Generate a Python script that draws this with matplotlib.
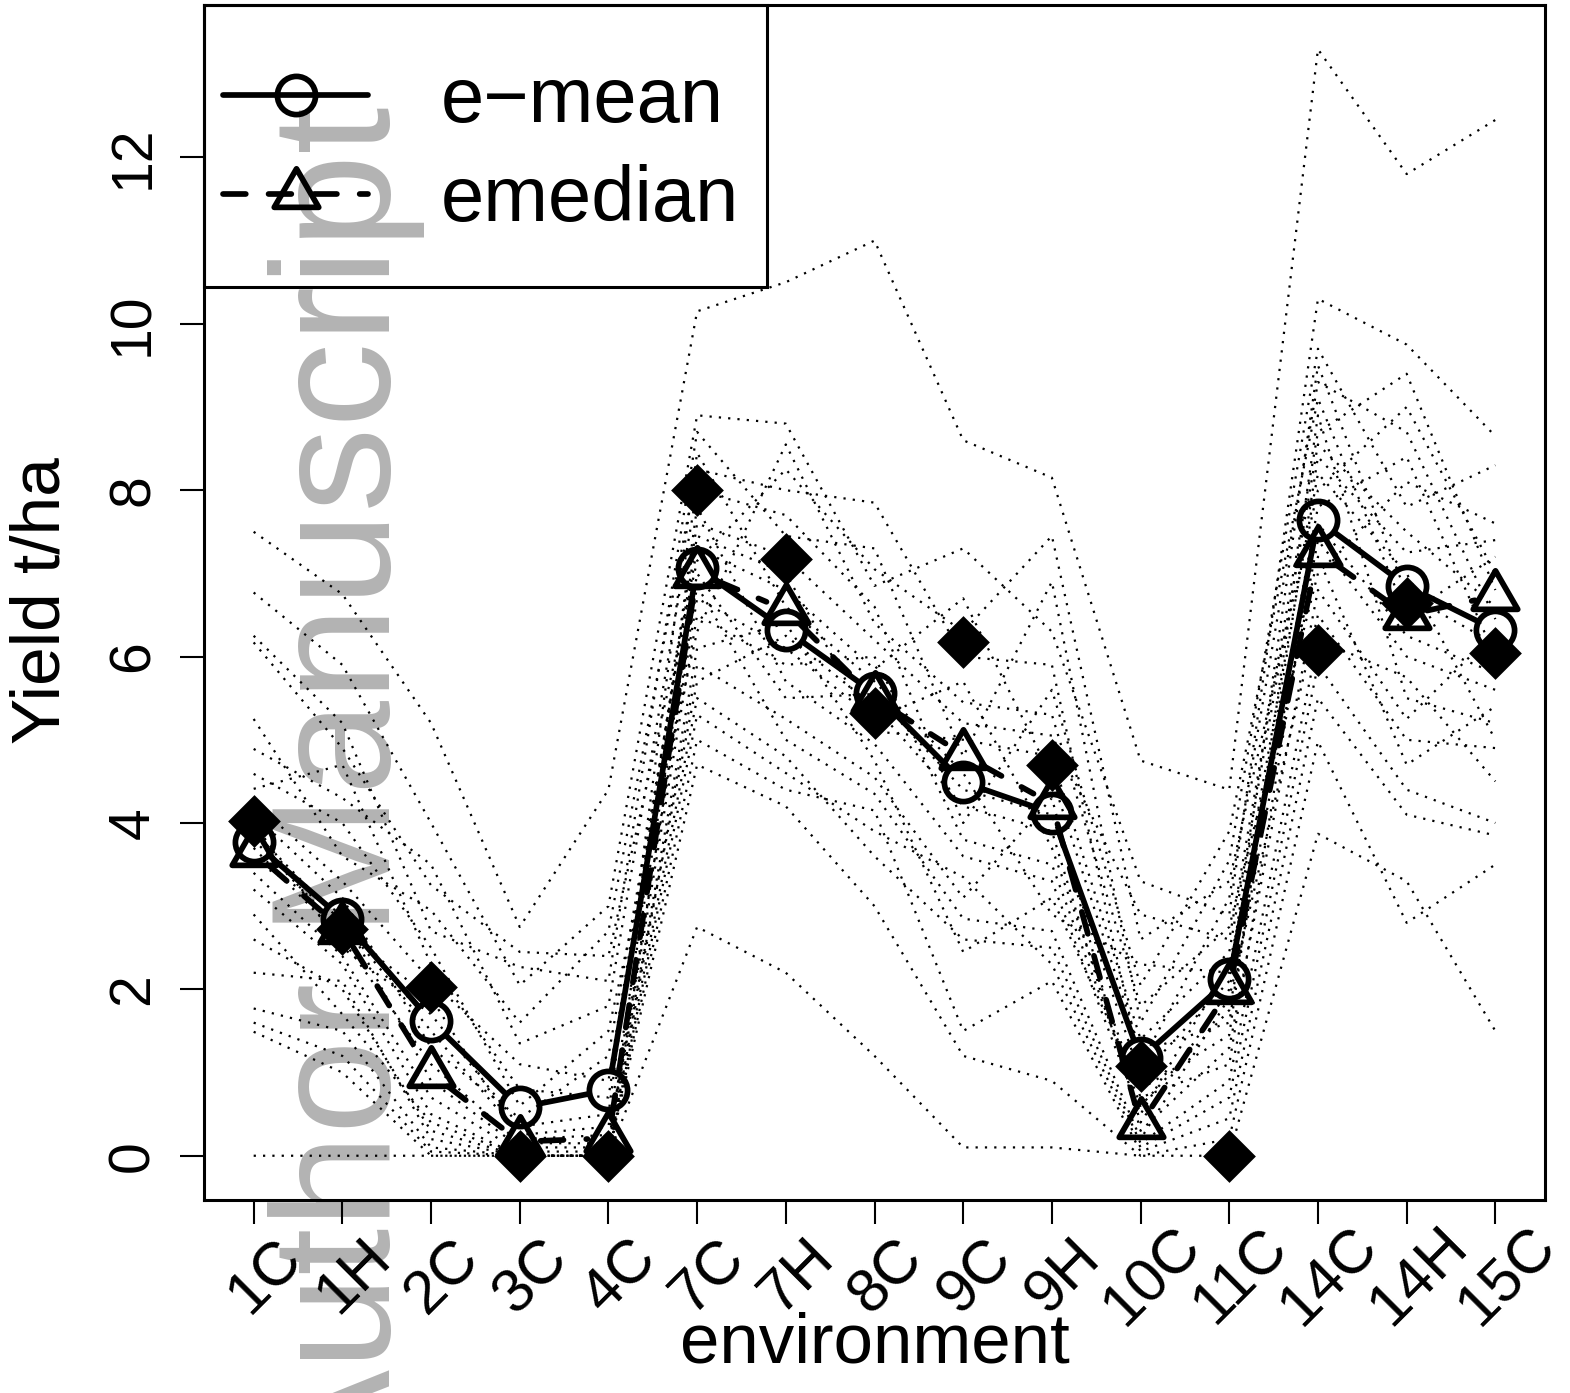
import matplotlib
matplotlib.use("Agg")
import matplotlib.pyplot as plt
import numpy as np
from matplotlib.markers import MarkerStyle
from matplotlib.lines import Line2D
from matplotlib.patches import Rectangle
from matplotlib.path import Path
import matplotlib.transforms as mtransforms

plt.rcParams['font.family'] = ['Liberation Sans', 'DejaVu Sans']

# ---------------- data ----------------
environments = ["1C", "1H", "2C", "3C", "4C", "7C", "7H", "8C", "9C", "9H",
                "10C", "11C", "14C", "14H", "15C"]

e_mean = [3.77, 2.85, 1.62, 0.58, 0.79, 7.07, 6.32, 5.56, 4.49, 4.12,
          1.17, 2.12, 7.64, 6.85, 6.32]
e_median = [3.65, 2.72, 0.99, 0.17, 0.21, 7.01, 6.56, 5.50, 4.82, 4.23,
            0.38, 2.00, 7.26, 6.50, 6.73]
observed = [4.02, 2.73, 2.03, 0.0, 0.0, 8.0, 7.17, 5.32, 6.17, 4.70,
            1.08, 0.0, 6.08, 6.65, 6.04]

# individual ensemble members (dotted lines)
m00 = [7.5, 6.75, 5.2, 2.75, 4.4, 10.15, 10.5, 11.0, 8.6, 8.15, 4.75, 4.4, 13.3, 11.8, 12.45]
m01 = [6.77, 5.9, 4.0, 2.05, 3.0, 8.9, 8.8, 6.85, 7.3, 6.3, 3.3, 2.9, 10.3, 9.75, 8.65]
m02 = [6.25, 5.2, 2.7, 2.27, 2.1, 8.7, 7.45, 7.3, 4.8, 6.9, 1.6, 3.55, 9.7, 7.8, 8.3]
m03 = [6.17, 4.9, 3.25, 2.45, 2.4, 7.15, 8.25, 7.05, 6.3, 7.45, 2.6, 3.3, 8.0, 9.0, 7.0]
m04 = [5.25, 3.6, 2.95, 1.6, 2.7, 8.25, 8.0, 7.85, 6.0, 5.9, 1.1, 3.1, 9.3, 8.7, 6.45]
m05 = [4.89, 4.3, 3.5, 1.35, 1.8, 8.0, 7.7, 6.6, 4.0, 5.6, 2.05, 3.9, 9.1, 6.5, 7.2]
m06 = [4.59, 4.0, 2.5, 0.6, 1.5, 6.3, 8.55, 6.4, 5.45, 5.3, 1.8, 2.75, 7.0, 8.1, 7.6]
m07 = [4.41, 4.7, 2.3, 0.8, 0.7, 7.6, 7.2, 6.2, 5.2, 5.05, 2.9, 2.6, 8.7, 9.4, 6.8]
m08 = [4.25, 3.3, 2.1, 1.1, 0.9, 7.45, 7.0, 5.1, 5.0, 4.8, 1.4, 2.45, 8.55, 7.5, 6.6]
m09 = [4.1, 3.1, 1.3, 0.45, 1.2, 7.3, 6.8, 5.85, 6.7, 4.55, 1.25, 1.6, 8.4, 7.25, 7.4]
m10 = [4.0, 2.5, 1.7, 0.35, 0.5, 8.45, 6.6, 5.7, 4.6, 2.9, 2.3, 2.2, 8.2, 7.0, 5.0]
m11 = [3.9, 2.8, 1.5, 0.25, 0.35, 7.0, 5.5, 5.55, 4.4, 4.1, 0.95, 2.1, 9.5, 6.75, 6.15]
m12 = [3.8, 2.7, 1.9, 0.2, 0.25, 5.7, 6.25, 5.4, 4.2, 3.9, 0.4, 2.0, 7.8, 8.4, 6.0]
m13 = [3.7, 2.6, 1.1, 0.15, 0.15, 6.7, 6.1, 5.25, 5.7, 3.7, 0.7, 1.1, 7.6, 6.25, 5.8]
m14 = [3.55, 2.9, 0.9, 0.1, 0.1, 6.5, 5.9, 6.0, 3.8, 3.5, 0.6, 1.75, 7.4, 6.0, 5.6]
m15 = [3.4, 2.4, 0.7, 0.05, 0.05, 7.8, 5.7, 4.95, 3.6, 3.3, 0.5, 2.3, 7.2, 4.7, 5.4]
m16 = [3.2, 2.3, 0.5, 0.0, 0.0, 6.1, 6.4, 4.75, 2.45, 3.1, 0.8, 1.45, 8.9, 5.5, 5.2]
m17 = [2.9, 1.7, 0.4, 0.0, 0.0, 5.9, 5.25, 4.55, 3.1, 4.3, 0.3, 1.3, 6.8, 5.25, 6.3]
m18 = [2.6, 2.0, 0.3, 0.0, 0.0, 6.85, 5.0, 4.35, 2.85, 2.7, 0.2, 1.9, 6.5, 5.0, 4.9]
m19 = [2.2, 2.1, 0.2, 0.0, 0.0, 5.5, 4.8, 3.6, 2.6, 2.5, 0.15, 0.9, 6.2, 5.75, 4.5]
m20 = [1.77, 1.5, 0.1, 0.0, 0.0, 5.3, 4.6, 3.9, 3.35, 2.3, 0.1, 0.7, 5.9, 4.4, 4.0]
m21 = [1.6, 1.2, 0.05, 0.0, 0.0, 5.0, 4.4, 4.15, 1.5, 2.1, 0.05, 0.45, 5.5, 4.1, 3.85]
m22 = [1.49, 1.0, 0.0, 0.0, 0.0, 4.7, 4.2, 3.0, 1.2, 0.9, 0.0, 0.2, 4.98, 2.8, 3.5]
m23 = [0.0, 0.0, 0.0, 0.0, 0.0, 2.75, 2.2, 1.2, 0.1, 0.1, 0.0, 0.0, 3.87, 3.3, 1.5]
members = [m00, m01, m02, m03, m04, m05, m06, m07, m08, m09, m10, m11,
           m12, m13, m14, m15, m16, m17, m18, m19, m20, m21, m22, m23]

y_ticks = [0, 2, 4, 6, 8, 10, 12]

# ---------------- figure ----------------
W, H = 1570, 1393
fig = plt.figure(figsize=(W / 100, H / 100), dpi=100)
fig.patch.set_facecolor("white")
ax = fig.add_axes([204 / W, 1 - 1200 / H, (1545 - 204) / W, (1200 - 5) / H])
ax.set_zorder(1)
ax.patch.set_visible(False)

x = np.arange(1, len(environments) + 1)
allvals = np.array(members + [e_mean, e_median, observed])
ymin, ymax = allvals.min(), allvals.max()
ax.set_xlim(1 - 0.04 * (len(x) - 1), len(x) + 0.04 * (len(x) - 1))
ax.set_ylim(ymin - 0.04 * (ymax - ymin), ymax + 0.04 * (ymax - ymin))

# watermark
fig.text(390 / W, 1 - 1482 / H, "Author Manuscript", rotation=90,
         rotation_mode="anchor", ha="left", va="baseline",
         fontsize=122, color="#b3b3b3", zorder=0.5)

# dotted members
for m in members:
    ax.plot(x, m, color="black", lw=1.6, linestyle=(0, (1, 3.2)),
            dash_capstyle="butt", zorder=1)

LW = 4.1
GAP = 21  # pixels, R type="b" gap


def gapped_line(xs, ys, **kw):
    pts = ax.transData.transform(np.column_stack([xs, ys]))
    inv = ax.transData.inverted()
    for p0, p1 in zip(pts[:-1], pts[1:]):
        d = p1 - p0
        L = np.hypot(d[0], d[1])
        if L <= 2 * GAP:
            continue
        u = d / L
        a = inv.transform(p0 + u * GAP)
        b = inv.transform(p1 - u * GAP)
        ax.plot([a[0], b[0]], [a[1], b[1]], **kw)


gapped_line(x, e_mean, color="black", lw=LW, solid_capstyle="round", zorder=3)
gapped_line(x, e_median, color="black", lw=LW, linestyle=(0, (4, 4)),
            dash_capstyle="round", zorder=3)

tri_path = Path([(0, 1), (-0.866, -0.5), (0.866, -0.5), (0, 1)],
                [Path.MOVETO, Path.LINETO, Path.LINETO, Path.CLOSEPOLY])
tri = MarkerStyle(tri_path, joinstyle="round", capstyle="round")
dia_path = Path([(0, 1), (1, 0), (0, -1), (-1, 0), (0, 1)],
                [Path.MOVETO, Path.LINETO, Path.LINETO, Path.LINETO, Path.CLOSEPOLY])
dia = MarkerStyle(dia_path)

ax.plot(x, e_mean, linestyle="none", marker="o", ms=27.5, mfc="none",
        mec="black", mew=LW, zorder=4)
ax.plot(x, e_median, linestyle="none", marker=tri, ms=37, mfc="none",
        mec="black", mew=LW, zorder=4)
ax.plot(x, observed, linestyle="none", marker=dia, ms=38, mfc="black",
        mec="black", mew=0, zorder=5)

# axes styling
for s in ax.spines.values():
    s.set_linewidth(2.2)
ax.set_xticks(x)
ax.set_xticklabels(environments, rotation=45, ha="center", va="center",
                   rotation_mode="anchor", fontsize=44)
ax.tick_params(axis="x", length=17.3, width=1.5, pad=38)
offset = mtransforms.ScaledTranslation(12 / 100, 0, fig.dpi_scale_trans)
for lab in ax.get_xticklabels():
    lab.set_transform(lab.get_transform() + offset)
ax.set_yticks(y_ticks)
ax.set_yticklabels([str(v) for v in y_ticks], fontsize=41)
ax.tick_params(axis="y", length=17.3, width=1.5, pad=14, labelrotation=90)
for lab in ax.get_yticklabels():
    lab.set_va("center")

ax.set_xlabel("environment", fontsize=51)
ax.xaxis.set_label_coords(0.5, -0.093)
ax.set_ylabel("Yield t/ha", fontsize=50)
ax.yaxis.set_label_coords(-0.097, 0.502)

# legend
h_mean = Line2D([], [], color="black", lw=LW, marker="o", ms=27.5, mfc="none",
                mec="black", mew=LW, solid_capstyle="round")
h_med = Line2D([], [], color="black", lw=LW, linestyle=(0, (4, 4)),
               dash_capstyle="round", marker=tri, ms=37, mfc="none",
               mec="black", mew=LW)
leg = ax.legend([h_mean, h_med], ["e\u2212mean", "emedian"], loc="upper left",
                bbox_to_anchor=(223 / W, 1 - 65 / H),
                bbox_transform=fig.transFigure, frameon=False, fontsize=56,
                borderpad=0, borderaxespad=0, handlelength=1.87,
                handletextpad=0.93, labelspacing=0.34, numpoints=1)
ax.add_patch(Rectangle((0, (1200 - 287) / 1195), (767 - 204) / 1341,
                       (287 - 5) / 1195, transform=ax.transAxes, fill=False,
                       lw=2.2, edgecolor="black", clip_on=False, zorder=6))

fig.savefig("out.png", dpi=100)
